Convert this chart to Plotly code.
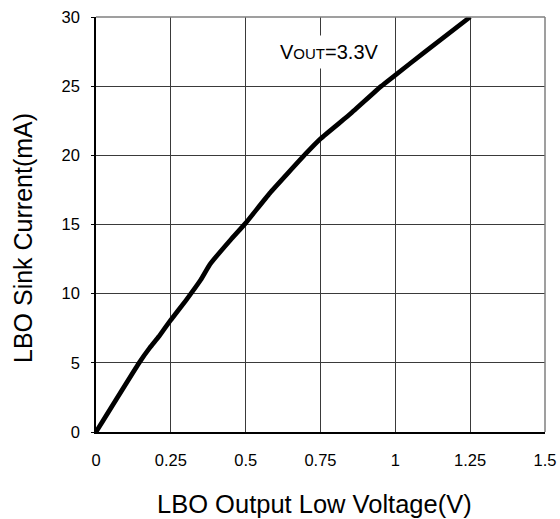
import plotly.graph_objects as go

# LBO output low voltage (V) vs. sink current (mA), VOUT = 3.3 V
voltage = [0.0, 0.144, 0.18, 0.21, 0.25, 0.30, 0.35, 0.38, 0.45, 0.50,
           0.58, 0.70, 0.75, 0.85, 0.953, 1.00, 1.10, 1.25]
current = [0.0, 5.0, 6.1, 6.9, 8.1, 9.5, 11.0, 12.1, 13.9, 15.1,
           17.25, 20.1, 21.2, 23.0, 25.0, 25.8, 27.5, 30.0]

x_ticks = [0, 0.25, 0.5, 0.75, 1, 1.25, 1.5]
x_tick_text = ["0", "0.25", "0.5", "0.75", "1", "1.25", "1.5"]
y_ticks = [0, 5, 10, 15, 20, 25, 30]

x_title = "LBO Output Low Voltage(V)"
y_title = "LBO Sink Current(mA)"

FONT = "Liberation Sans, Arial, sans-serif"

# figure / plot-area geometry in pixels
W, H = 560, 519
ML, MR, MT, MB = 96, 15, 17, 87
plot_w = W - ML - MR
plot_h = H - MT - MB


def px_to_paper(px, py):
    """Convert a pixel position on the page to plot-area paper coordinates."""
    return (px - ML) / plot_w, (H - MB - py) / plot_h


fig = go.Figure()
fig.add_trace(go.Scatter(
    x=voltage, y=current, mode="lines",
    line=dict(color="black", width=4.7, shape="spline", smoothing=0.3),
    hoverinfo="skip", showlegend=False,
))

xt_x, xt_y = px_to_paper(314, 504)
yt_x, yt_y = px_to_paper(23, 238)

fig.update_layout(
    width=W, height=H,
    margin=dict(l=ML, r=MR, t=MT, b=MB),
    paper_bgcolor="white", plot_bgcolor="white",
    font=dict(family=FONT, color="black"),
    xaxis=dict(
        range=[0, 1.5], tickvals=x_ticks, ticktext=x_tick_text,
        automargin=False,
        showgrid=True, gridcolor="#3a3a3a", gridwidth=1,
        showline=True, linecolor="black", linewidth=1.5,
        zeroline=False, ticks="", tickfont=dict(size=16.5),
        ticklabelstandoff=12,
    ),
    yaxis=dict(
        range=[0, 30], tickvals=y_ticks,
        automargin=False,
        showgrid=True, gridcolor="#3a3a3a", gridwidth=1,
        showline=True, linecolor="black", linewidth=1.5,
        zeroline=False, ticks="outside", ticklen=3, tickcolor="black",
        tickfont=dict(size=16.5), ticklabelstandoff=8,
    ),
    shapes=[
        # lighter top and right frame edges
        dict(type="line", xref="paper", yref="paper", x0=0, x1=1, y0=1, y1=1,
             line=dict(color="#7f7f7f", width=1.5)),
        dict(type="line", xref="paper", yref="paper", x0=1, x1=1, y0=0, y1=1,
             line=dict(color="#7f7f7f", width=1.5)),
    ],
    annotations=[
        dict(x=0.777, y=27.45, xref="x", yref="y",
             text="V<span style='font-size:15px'>OUT</span>=3.3V",
             showarrow=False, font=dict(size=20, family=FONT),
             bgcolor="white", borderpad=5),
        dict(x=xt_x, y=xt_y, xref="paper", yref="paper", text=x_title,
             xanchor="center", yanchor="middle",
             showarrow=False, font=dict(size=25.5, family=FONT)),
        dict(x=yt_x, y=yt_y, xref="paper", yref="paper", text=y_title,
             xanchor="center", yanchor="middle", textangle=-90,
             showarrow=False, font=dict(size=25, family=FONT)),
    ],
)

fig.write_html("out.html")
